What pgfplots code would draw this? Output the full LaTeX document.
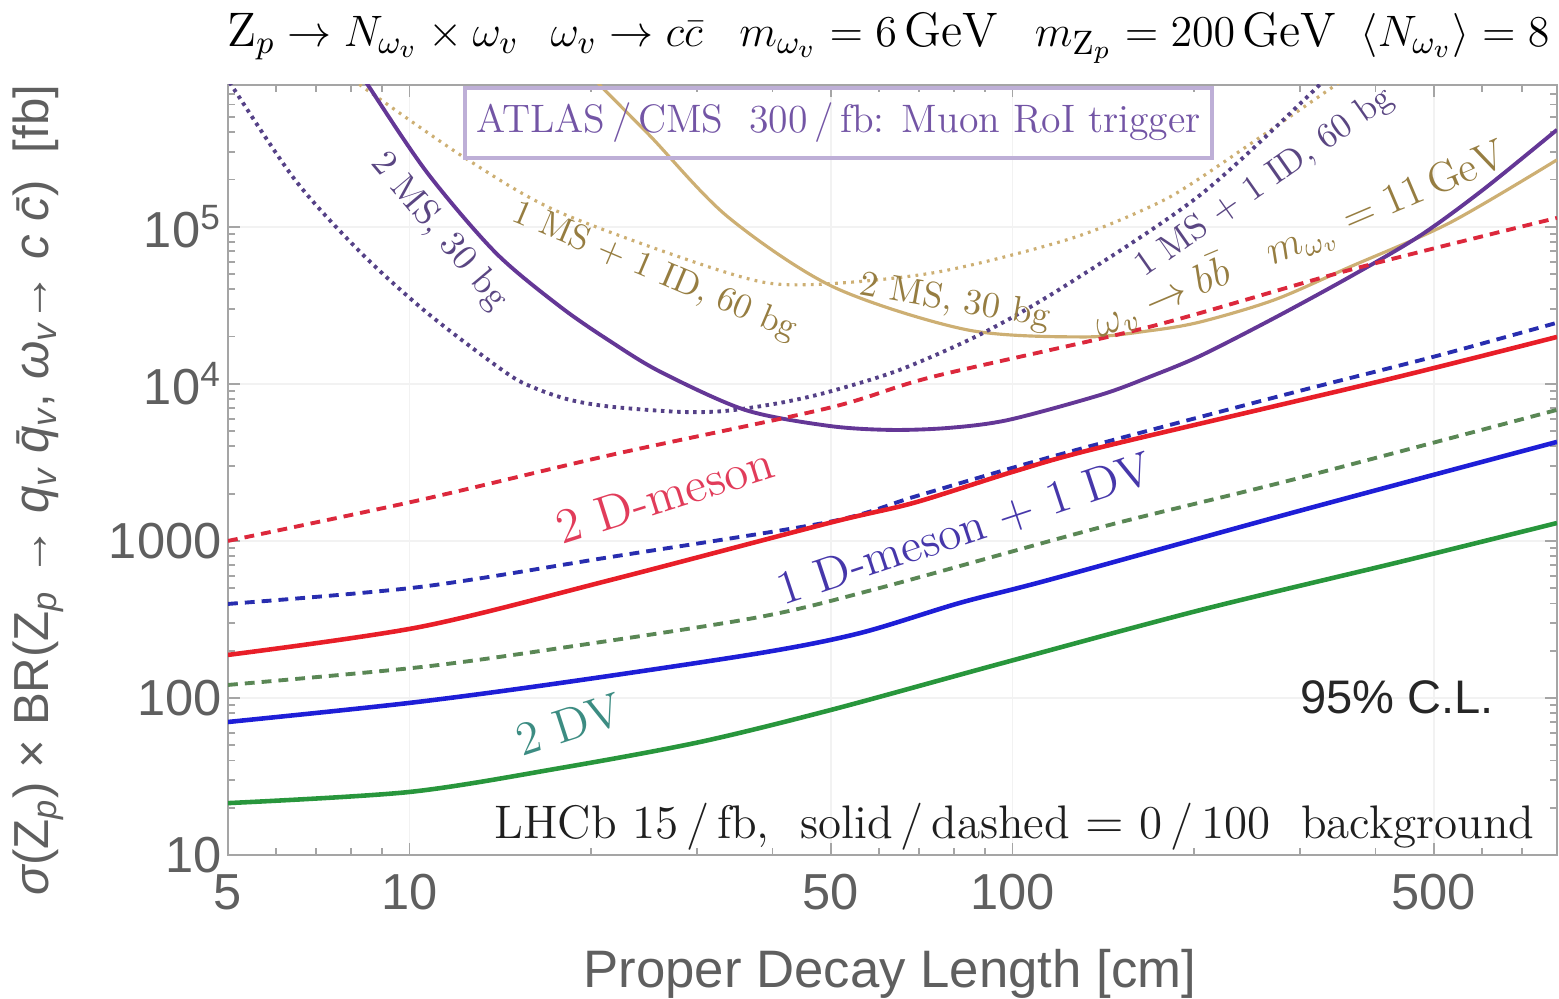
\documentclass[border=0pt]{standalone}
\usepackage{graphicx}
\usepackage{pgfplots}
\pgfplotsset{compat=1.18}
\usepackage{fontspec}
\newfontfamily\arial{Liberation Sans}
\definecolor{cRed}{RGB}{232,30,40}
\definecolor{cRedD}{RGB}{220,40,60}
\definecolor{cBlue}{RGB}{30,30,215}
\definecolor{cBlueD}{RGB}{40,45,175}
\definecolor{cGreen}{RGB}{40,150,60}
\definecolor{cGreenD}{RGB}{90,135,85}
\definecolor{cPurple}{RGB}{100,55,150}
\definecolor{cPurpleD}{RGB}{85,65,135}
\definecolor{cPurpleT}{RGB}{90,70,130}
\definecolor{cGold}{RGB}{205,175,115}
\definecolor{cGoldT}{RGB}{150,125,65}
\definecolor{cFrame}{RGB}{165,165,165}
\definecolor{cTick}{RGB}{95,95,95}
\definecolor{cBox}{RGB}{190,175,215}
\definecolor{cAtlas}{RGB}{115,85,165}
\definecolor{cLabRed}{RGB}{225,60,90}
\definecolor{cLabBlue}{RGB}{70,55,170}
\definecolor{cLabTeal}{RGB}{60,140,130}

% LHCb, 0 / 100 background
\pgfplotstableread{
x y
5 1000
10.4 1820
21.6 3530
49.6 7030
73.8 11100
169 23100
363 53200
800 114000
}\dmesonHundred
\pgfplotstableread{
x y
5 397
10.4 509
21.6 791
49.6 1320
68.7 1910
100 2920
141 4210
291 8770
500 14900
800 24500
}\mixedHundred
\pgfplotstableread{
x y
5 188
10.4 283
21.6 565
49.6 1300
68.7 1750
100 2750
141 3970
416 10600
800 19900
}\dmesonZero
\pgfplotstableread{
x y
5 121
10.4 157
17.8 208
38.1 328
60.3 502
141 1230
291 2450
800 6830
}\dvHundred
\pgfplotstableread{
x y
5 70.3
10 93
17.8 124.6
38.1 193
55.9 259
81.8 403
115 565
291 1510
800 4270
}\mixedZero
\pgfplotstableread{
x y
5 21.4
10 25.2
17.8 35.8
30.3 52.4
50 83.9
95.3 165
205 363
439 735
800 1300
}\dvZero
% ATLAS/CMS muon RoI trigger
\pgfplotstableread{
x y
8.1 1100000
8.53 800000
10.7 221000
13.9 68300
17.8 30900
21.6 18500
26.1 11900
36.0 6830
49.6 5400
62.9 5090
78.8 5250
98.6 5900
140 8510
169 11100
205 15100
272 26300
363 48100
474 87700
603 172000
800 415000
}\msTwoPurple
\pgfplotstableread{
x y
4.9 950000
5 860000
6.46 199000
8.31 68300
10.7 28300
14.4 11900
16.1 9440
18.45 7910
21.6 7150
28.1 6630
33.5 6730
41.2 7570
49.6 8900
65.1 12300
89.4 21100
123 42700
205 160000
323 800000
349 1150000
}\idOnePurple
\pgfplotstableread{
x y
7.67 1000000
8.63 714000
12.5 267000
17.8 123000
33.7 50900
44.4 42700
73.8 50900
123 82600
169 134000
205 205000
353 860000
}\idOneGold
\pgfplotstableread{
x y
19.6 1080000
20.3 863000
25.05 380000
33.7 116000
50.4 41500
84 22100
131 19900
169 21800
205 24800
272 34300
363 55600
531 106000
800 267000
}\msTwoGold

\begin{document}
\begin{tikzpicture}
\begin{axis}[
    xmode=log, ymode=log,
    scale only axis,
    width=132.9mm, height=77mm,
    xmin=5, xmax=800, ymin=10, ymax=800000,
    xtick={5,10,50,100,500},
    xticklabels={5,10,50,100,500},
    minor xtick={6,7,8,9,20,30,40,60,70,80,90,200,300,400,600,700},
    ytick={10,100,1000,10000,100000},
    yticklabels={10,100,1000,10\textsuperscript{4},10\textsuperscript{5}},
    minor ytick={20,30,40,50,60,70,80,90,200,300,400,500,600,700,800,900,
        2000,3000,4000,5000,6000,7000,8000,9000,20000,30000,40000,50000,
        60000,70000,80000,90000,200000,300000,400000,500000,600000,700000},
    tick align=inside,
    major tick length=1.2mm, minor tick length=0.7mm,
    axis line style={cFrame, line width=0.7pt},
    tick style={cFrame, line width=0.5pt},
    grid=major, major grid style={black!5, line width=0.4pt},
    tick label style={font=\arial\fontsize{14.4}{16}\selectfont, text=cTick},
    xticklabel style={yshift=-0.7mm},
    yticklabel style={xshift=0.6mm},
    clip mode=individual,
]
\addplot[cGold, line width=0.9pt, dash pattern=on 0.8pt off 1.5pt, smooth, tension=0.5] table {\idOneGold};
\addplot[cGold, line width=0.9pt, smooth, tension=0.5] table {\msTwoGold};
\addplot[cPurpleD, line width=1.1pt, dash pattern=on 1pt off 1.3pt, smooth, tension=0.5] table {\idOnePurple};
\addplot[cPurple, line width=1.1pt, smooth, tension=0.5] table {\msTwoPurple};

\addplot[cGreenD, line width=1.1pt, dash pattern=on 2.8pt off 2pt, smooth] table {\dvHundred};
\addplot[cGreen, line width=1.3pt, smooth] table {\dvZero};
\addplot[cBlueD, line width=1.1pt, dash pattern=on 2.8pt off 2pt, smooth] table {\mixedHundred};
\addplot[cBlue, line width=1.3pt, smooth] table {\mixedZero};
\addplot[cRedD, line width=1.1pt, dash pattern=on 2.8pt off 2pt, smooth] table {\dmesonHundred};
\addplot[cRed, line width=1.3pt, smooth] table {\dmesonZero};

% curve labels
\node[rotate=-50, text=cPurpleT, font=\fontsize{10.3}{12}\selectfont] at (axis cs:11.2,93000) {2 MS, 30 bg};
\node[rotate=-23, text=cGoldT, font=\fontsize{10}{12}\selectfont] at (axis cs:25.5,51600) {1 MS + 1 ID, 60 bg};
\node[rotate=-10, text=cGoldT, font=\fontsize{10.3}{12}\selectfont] at (axis cs:80.3,33300) {2 MS, 30 bg};
\node[rotate=35, text=cPurpleT, font=\fontsize{10}{12}\selectfont] at (axis cs:262,190000) {1 MS + 1 ID, 60 bg};
\node[rotate=23, text=cGoldT, font=\fontsize{12}{14}\selectfont] at (axis cs:300,82600) {$\omega_v\to b\bar b\quad m_{\omega_v}=11\,\mathrm{GeV}$};
\node[rotate=17.6, text=cLabRed, font=\fontsize{14}{16}\selectfont] at (axis cs:26.5,1960) {2 D-meson};
\node[rotate=18.4, text=cLabBlue, font=\fontsize{13.5}{15}\selectfont] at (axis cs:83.4,1175) {1 D-meson + 1 DV};
\node[rotate=18, text=cLabTeal, font=\fontsize{13.5}{15}\selectfont] at (axis cs:18.4,67.3) {2 DV};

% boxes and notes
\node[draw=cBox, line width=0.9pt, minimum width=74.7mm, minimum height=7mm, inner sep=0pt,
      text=cAtlas, font=\fontsize{11.3}{13}\selectfont] at (rel axis cs:0.4594,0.9506)
      {ATLAS\,/\,CMS\ \ 300\,/\,fb: Muon RoI trigger};
\node[text=black!85, font=\arial\fontsize{13.4}{15}\selectfont] at (rel axis cs:0.8796,0.2052) {95\% C.L.};
\node[anchor=base east, inner sep=0pt, text=black!88, font=\fontsize{13.4}{15}\selectfont] at (rel axis cs:0.9835,0.022)
      {LHCb 15\,/\,fb,\ \ solid\,/\,dashed $=$ 0\,/\,100\ \ background};

% title and axis labels
\node[anchor=base, inner sep=0pt, font=\fontsize{13.2}{15}\selectfont] at (rel axis cs:0.497,1) [yshift=3.8mm]
  {\resizebox{132.2mm}{!}{$\mathrm{Z}_p\to N_{\omega_v}\times\omega_v\;\;\,\omega_v\to c\bar c\;\;\; m_{\omega_v}=6\,\mathrm{GeV}\;\;\; m_{\mathrm{Z}_p}=200\,\mathrm{GeV}\;\;\langle N_{\omega_v}\rangle=8$}};
\node[anchor=base, inner sep=0pt, text=cTick, font=\arial\fontsize{15}{17}\selectfont] at (rel axis cs:0.498,0) [yshift=-13.3mm]
  {Proper Decay Length [cm]};
\node[xshift=-19mm, rotate=90, inner sep=0pt, text=cTick, font=\arial\fontsize{14}{16}\selectfont] at (rel axis cs:0,0.474)
  {{\itshape σ}(Z\textsubscript{\itshape p}) × BR(Z\textsubscript{\itshape p} → {\itshape q\textsubscript{v} q̄\textsubscript{v}}, {\itshape ω\textsubscript{v}}→ {\itshape c c̄})\ \ [fb]};
\end{axis}
\pgfresetboundingbox
\path[use as bounding box] ([shift={(-22.8mm,-14.4mm)}]current axis.south west) rectangle ([shift={(0.2mm,8.5mm)}]current axis.north east);
\end{tikzpicture}
\end{document}
